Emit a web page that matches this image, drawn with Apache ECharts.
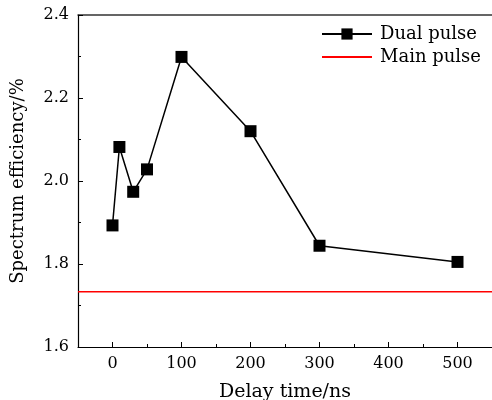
<!DOCTYPE html>
<html>
<head>
<meta charset="utf-8">
<script src="https://cdn.jsdelivr.net/npm/echarts@6/dist/echarts.min.js"></script>
<style>
  html, body { margin: 0; padding: 0; background: #fff; }
  #chart { width: 492px; height: 400px; }
</style>
</head>
<body>
<div id="chart"></div>
<script>
// Delay time (ns) and spectrum efficiency (%) of the dual-pulse scheme
const delayTimes = [0, 10, 30, 50, 100, 200, 300, 500];
const dualPulse = [1.893, 2.082, 1.974, 2.028, 2.299, 2.120, 1.844, 1.805];
// Reference level of the single main pulse
const mainPulseLevel = 1.733;
const xRange = [-50, 550];
const xMajorTicks = [0, 100, 200, 300, 400, 500];
const xMinorTicks = [50, 150, 250, 350, 450];

const FONT = 'DejaVu Serif';

const chart = echarts.init(document.getElementById('chart'), null, { renderer: 'canvas' });

chart.setOption({
  animation: false,
  backgroundColor: '#fff',
  grid: { left: 78, right: 0, top: 15, bottom: 53, outerBoundsMode: 'none', containLabel: false },
  legend: {
    orient: 'vertical',
    left: 321,
    top: 25,
    padding: 0,
    itemWidth: 50,
    itemHeight: 14,
    itemGap: 5,
    textStyle: { fontFamily: FONT, fontSize: 18, color: '#000', padding: [0, 0, 0, 3] },
    data: [
      { name: 'Dual pulse' },
      // plain red line in the key, no marker
      { name: 'Main pulse', itemStyle: { opacity: 0 } }
    ]
  },
  xAxis: [
    {
      type: 'value',
      position: 'bottom',
      min: xRange[0],
      max: xRange[1],
      interval: 50,
      name: 'Delay time/ns',
      nameLocation: 'middle',
      nameGap: 36,
      nameTextStyle: { fontFamily: FONT, fontSize: 19, color: '#000' },
      axisLine: { show: true, onZero: false, lineStyle: { color: '#000', width: 1.2 } },
      axisTick: { show: true, inside: true, length: 5, customValues: xMajorTicks, lineStyle: { color: '#000' } },
      axisLabel: { customValues: xMajorTicks, fontFamily: FONT, fontSize: 16, color: '#000', margin: 9 },
      splitLine: { show: false }
    },
    {
      type: 'value',
      position: 'bottom',
      min: xRange[0],
      max: xRange[1],
      interval: 50,
      axisLine: { show: false },
      axisTick: { show: true, inside: true, length: 3, customValues: xMinorTicks, lineStyle: { color: '#000' } },
      axisLabel: { show: false },
      splitLine: { show: false }
    },
    {
      type: 'value',
      position: 'top',
      min: xRange[0],
      max: xRange[1],
      interval: 50,
      axisLine: { show: true, onZero: false, lineStyle: { color: '#333', width: 1.5 } },
      axisTick: { show: false },
      axisLabel: { show: false },
      splitLine: { show: false }
    }
  ],
  yAxis: {
    type: 'value',
    min: 1.6,
    max: 2.4,
    interval: 0.2,
    name: 'Spectrum efficiency/%',
    nameLocation: 'middle',
    nameGap: 51,
    nameTextStyle: { fontFamily: FONT, fontSize: 18, color: '#000' },
    axisLine: { show: true, onZero: false, lineStyle: { color: '#000', width: 1.2 } },
    axisTick: { show: true, inside: true, length: 5, lineStyle: { color: '#000' } },
    minorTick: { show: true, splitNumber: 2, length: 3, lineStyle: { color: '#000' } },
    axisLabel: {
      fontFamily: FONT, fontSize: 16, color: '#000', margin: 9,
      formatter: v => v.toFixed(1)
    },
    splitLine: { show: false }
  },
  series: [
    {
      name: 'Dual pulse',
      type: 'line',
      xAxisIndex: 0,
      data: delayTimes.map((t, i) => [t, dualPulse[i]]),
      symbol: 'rect',
      symbolSize: 12,
      itemStyle: { color: '#000' },
      lineStyle: { color: '#000', width: 1.5 },
      z: 3
    },
    {
      name: 'Main pulse',
      type: 'line',
      xAxisIndex: 0,
      data: xRange.map(x => [x, mainPulseLevel]),
      symbol: 'none',
      itemStyle: { color: '#f00' },
      lineStyle: { color: '#f00', width: 1.5 },
      z: 2
    }
  ]
});
</script>
</body>
</html>
